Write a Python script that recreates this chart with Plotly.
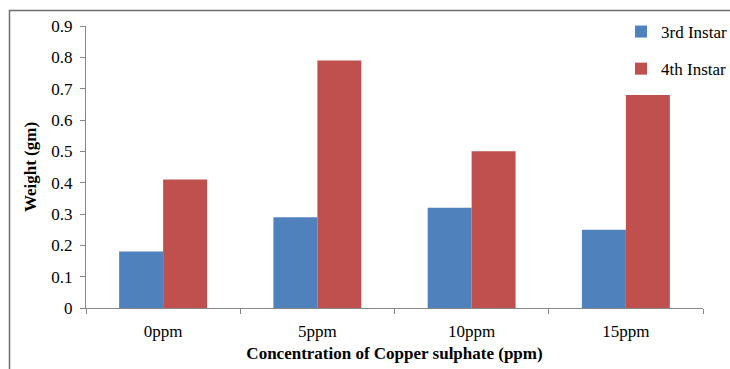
import plotly.graph_objects as go

categories = ["0ppm", "5ppm", "10ppm", "15ppm"]
instar3 = [0.18, 0.29, 0.32, 0.25]
instar4 = [0.41, 0.79, 0.50, 0.68]

serif = "Liberation Serif, Times New Roman, serif"
axis_grey = "#868686"

fig = go.Figure()
fig.add_trace(go.Bar(x=categories, y=instar3, name="3rd Instar",
                     marker=dict(color="#4F81BD", line=dict(width=0)),
                     legendgroup="a"))
fig.add_trace(go.Bar(x=categories, y=instar4, name="4th Instar",
                     marker=dict(color="#C0504D", line=dict(width=0)),
                     legendgroup="b"))

W, H = 730, 369
L, R, T, B = 86, 27, 26, 61
pw, ph = W - L - R, H - T - B

def px_x(x):
    return (x - L) / pw

def px_y(y):
    return (H - B - y) / ph

# frame around the chart area (top and left edges visible)
fig.add_shape(type="path", xref="paper", yref="paper",
              path=f"M {px_x(9.5)} {px_y(380)} L {px_x(9.5)} {px_y(10.5)} L {px_x(740)} {px_y(10.5)}",
              line=dict(color="#6e6e6e", width=1.5))

fig.update_layout(
    width=W, height=H,
    margin=dict(l=L, r=R, t=T, b=B, autoexpand=False),
    paper_bgcolor="white", plot_bgcolor="white",
    barmode="group", bargap=0.43, bargroupgap=0,
    font=dict(family=serif, size=17, color="black"),
    legend=dict(x=px_x(732), y=px_y(14), xanchor="right", yanchor="top",
                traceorder="grouped", tracegroupgap=12,
                font=dict(family=serif, size=17, color="black"),
                itemwidth=30, bgcolor="rgba(0,0,0,0)"),
    xaxis=dict(showline=True, linecolor=axis_grey, linewidth=1,
               ticks="outside", tickson="boundaries", ticklen=5,
               tickcolor=axis_grey, showgrid=False,
               ticklabelstandoff=8,
               tickfont=dict(family=serif, size=17),
               title=dict(text="<b>Concentration of Copper sulphate (ppm)</b>",
                          font=dict(family=serif, size=17), standoff=6)),
    yaxis=dict(range=[0, 0.9], dtick=0.1, showline=True, linecolor=axis_grey,
               linewidth=1, ticks="outside", ticklen=5, tickcolor=axis_grey,
               showgrid=False, zeroline=False,
               ticklabelstandoff=4,
               tickfont=dict(family=serif, size=17),
               title=dict(text="<b>Weight (gm)</b>",
                          font=dict(family=serif, size=17), standoff=10)),
)

fig.write_html("out.html")
